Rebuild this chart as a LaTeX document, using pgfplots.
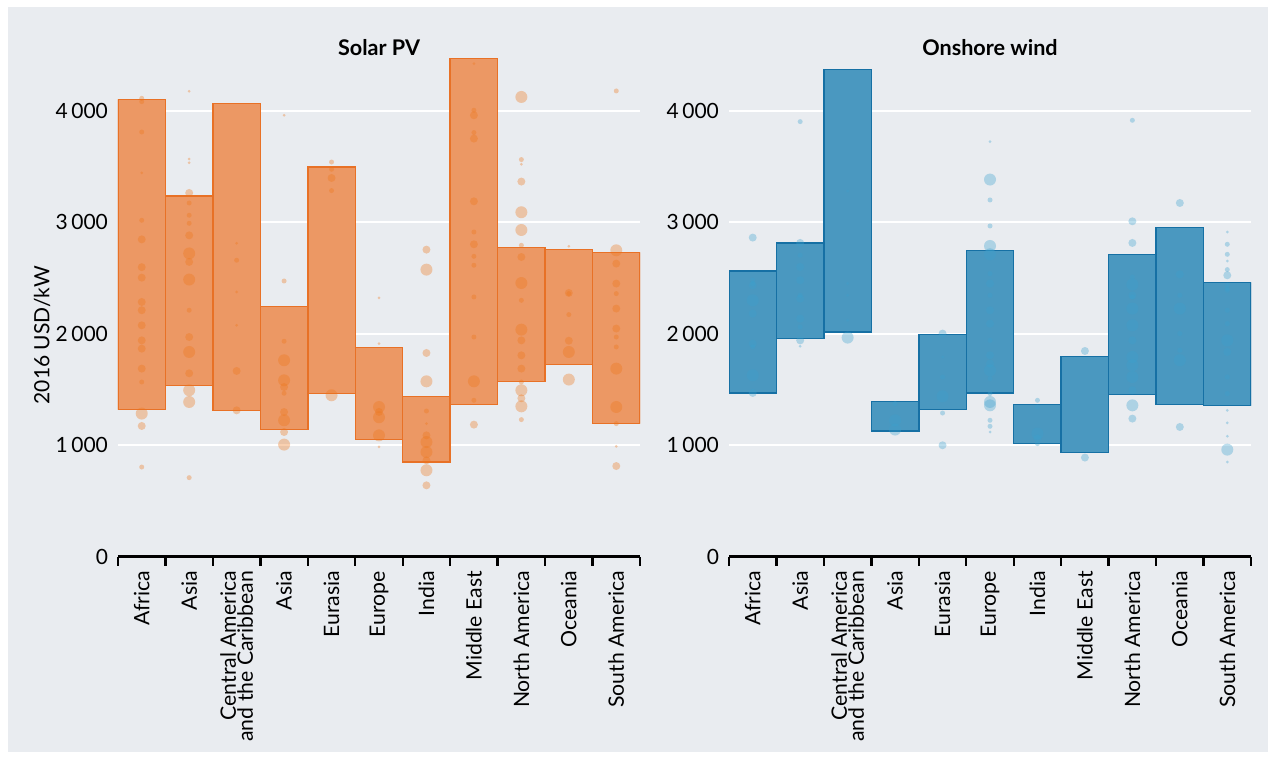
\documentclass[border=0pt]{standalone}
\usepackage{pgfplots}
\pgfplotsset{compat=1.18}
\usepackage{pgfplotstable}
\usepackage{fontspec}
\setmainfont{Lato}
\definecolor{bg}{RGB}{233,236,240}
\definecolor{solfill}{RGB}{236,152,100}
\definecolor{soledge}{RGB}{232,113,38}
\definecolor{soldot}{RGB}{238,118,25}
\definecolor{wndfill}{RGB}{74,152,192}
\definecolor{wndedge}{RGB}{22,112,164}
\definecolor{wnddot}{RGB}{60,160,205}

\pgfplotstableread{
x low high
0 1323 4099
1 1536 3235
2 1312 4063
3 1144 2244
4 1467 3495
5 1052 1876
6 851 1437
7 1366 4469
8 1571 2772
9 1724 2754
10 1198 2727
}\solarbars

\pgfplotstableread{
x low high
0 1470 2563
1 1957 2814
2 2016 4370
3 1129 1392
4 1323 1993
5 1470 2745
6 1016 1368
7 935 1798
8 1458 2709
9 1366 2951
10 1357 2459
}\windbars

\pgfplotsset{
  geom/.style={
    scale only axis, width=261pt, height=253.9pt,
    xmin=-0.5, xmax=10.5, ymin=0, ymax=4550,
    anchor=south west,
  },
  panel/.style={
    geom,
    axis x line*=bottom, axis y line*=left,
    y axis line style={draw=none},
    x axis line style={line width=1.5pt, black},
    xtick={0,...,10},
    minor xtick={-0.5,0.5,...,10.5},
    major tick length=0pt,
    minor tick length=4.5pt,
    tick align=outside,
    minor x tick style={line width=1.2pt, black},
    ytick={0,1000,2000,3000,4000},
    yticklabels={0,1\,000,2\,000,3\,000,4\,000},
    yticklabel style={font=\fontsize{10.5}{12}\selectfont, xshift=-1.5pt},
    ymajorgrids, grid style={white, line width=1pt},
    xticklabels={Africa,Asia,{Central America\\and the Caribbean},Asia,Eurasia,Europe,India,Middle East,North America,Oceania,South America},
    xticklabel style={rotate=90, anchor=east, align=right, font=\fontsize{10.6}{8.5}\selectfont, xshift=-3.5pt},
    title style={at={(0.5,1)}, anchor=center, yshift=-5pt, font=\bfseries\fontsize{10.8}{12}\selectfont},
    ybar stacked, bar width=1,
  },
  dots/.style={only marks, draw=none, mark=*, mark options={draw=none, draw opacity=0, fill=#1, fill opacity=0.34}},
}

\begin{document}
\begin{tikzpicture}
\path[use as bounding box] (0,0) rectangle (637pt,380pt);
\fill[bg] (4pt,4pt) rectangle (634pt,376.5pt);

% ---------------- Solar PV ----------------
\begin{axis}[panel, at={(59pt,101.5pt)}, title={Solar PV},
  every axis y label/.style={at={(axis description cs:-0.1456,0.4367)}, rotate=90, anchor=center, font=\fontsize{10.5}{12}\selectfont},
  ylabel={2016 USD/kW}]
\addplot[draw=none, fill=none] table[x=x, y=low]{\solarbars};
\addplot[fill=solfill, draw=soledge, line width=0.7pt] table[x=x, y expr=\thisrow{high}-\thisrow{low}]{\solarbars};
\end{axis}

\begin{axis}[geom, hide axis, at={(59pt,101.5pt)}, clip=false]
% tiny
\addplot[dots=soldot, mark size=0.75pt] coordinates {
(0,3441) (1,4173) (1,3566) (1,3533) (2,2811) (2,2375) (2,2076) (3,3958)
(5,2321) (5,1912) (5,986) (6,1195) (7,4421) (8,3519) (9,2784) (10,992)};
% small
\addplot[dots=soldot, mark size=1.25pt] coordinates {
(0,4110) (0,4080) (0,3808) (0,3017) (0,1568) (0,806)
(1,3172) (1,3062) (1,2990) (1,2211) (1,711)
(2,2659)
(3,2473) (3,1933) (3,1467)
(4,3539) (4,3474) (4,3283)
(6,1308)
(7,4003) (7,3803) (7,2912) (7,2694) (7,2614) (7,2330) (7,1971) (7,1404)
(8,3561) (8,2793) (8,2300) (8,1568) (8,1231)
(9,2360) (9,2172)
(10,4176) (10,2360) (10,1971) (10,1882) (10,1195)};
% medium
\addplot[dots=soldot, mark size=2pt] coordinates {
(0,2846) (0,2597) (0,2503) (0,2285) (0,2211) (0,2076) (0,1941) (0,1867) (0,1688) (0,1174)
(1,3262) (1,2882) (1,2644) (1,1971) (1,1646)
(2,1667) (2,1314)
(3,1523) (3,1299) (3,1120)
(4,3396)
(5,1300)
(6,2754) (6,1828) (6,1090) (6,866) (6,642)
(7,3958) (7,3749) (7,3187) (7,2802) (7,1186)
(8,3364) (8,2688) (8,1941) (8,1807) (8,1688) (8,1422)
(9,2366) (9,1938)
(10,2629) (10,2450) (10,2226) (10,2047) (10,815)};
% large
\addplot[dots=soldot, mark size=3pt] coordinates {
(0,1285)
(1,2720) (1,2486) (1,1837) (1,1494) (1,1389)
(3,1763) (3,1583) (3,1225) (3,1007)
(4,1449)
(5,1344) (5,1252) (5,1090)
(6,2575) (6,1574) (6,1030) (6,941) (6,777)
(7,1574)
(8,4122) (8,3089) (8,2930) (8,2455) (8,2037) (8,1494) (8,1350)
(9,1837) (9,1590)
(10,2748) (10,1688) (10,1344)};
\end{axis}

% ---------------- Onshore wind ----------------
\begin{axis}[panel, at={(364.5pt,101.5pt)}, title={Onshore wind}]
\addplot[draw=none, fill=none] table[x=x, y=low]{\windbars};
\addplot[fill=wndfill, draw=wndedge, line width=0.7pt] table[x=x, y expr=\thisrow{high}-\thisrow{low}]{\windbars};
\end{axis}

\begin{axis}[geom, hide axis, at={(364.5pt,101.5pt)}, clip=false]
% tiny
\addplot[dots=wnddot, mark size=0.75pt] coordinates {
(1,1888) (2,3280) (2,2450) (2,2345) (2,2121) (4,1792) (5,3722) (5,1120)
(10,2912) (10,2652) (10,1314) (10,1201) (10,1082) (10,851)};
% small
\addplot[dots=wnddot, mark size=1.25pt] coordinates {
(0,2480) (0,2450) (0,1882)
(1,3901) (1,2704) (1,2345) (1,2061)
(3,1374)
(4,1613) (4,1290)
(5,3199) (5,2966) (5,2539) (5,2345) (5,1941) (5,1599) (5,1464) (5,1225) (5,1171)
(6,1404) (6,1344) (6,1016)
(8,3913) (8,2509) (8,2330)
(9,2345) (9,2002) (9,1852)
(10,2802) (10,2712) (10,2575) (10,2435) (10,2390) (10,2405) (10,2211) (10,2091) (10,1613) (10,1464)};
% medium
\addplot[dots=wnddot, mark size=2pt] coordinates {
(0,2862) (0,2435) (0,2181) (0,1912) (0,1470)
(1,2814) (1,2599) (1,2480) (1,2315) (1,2136) (1,1941)
(4,2002) (4,1001)
(5,2450) (5,2211) (5,2091) (5,1807) (5,1733)
(6,1061)
(7,1846) (7,891)
(8,3008) (8,2814) (8,2345) (8,1941) (8,1494) (8,1240)
(9,3172) (9,2533) (9,1165)
(10,2524) (10,1837)};
% large
\addplot[dots=wnddot, mark size=3pt] coordinates {
(0,2300) (0,1628)
(2,1966)
(3,1225) (3,1142)
(4,1440)
(5,3382) (5,2787) (5,2712) (5,1673) (5,1389) (5,1359)
(6,1106)
(8,2441) (8,2226) (8,2076) (8,1792) (8,1718) (8,1613) (8,1359)
(9,2226) (9,1763)
(10,1941) (10,962)};
\end{axis}
\end{tikzpicture}
\end{document}
